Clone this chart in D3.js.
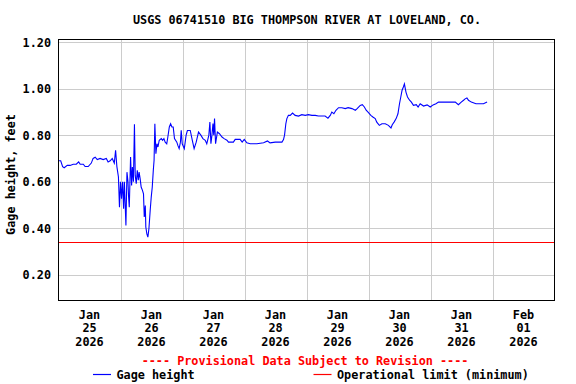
<!DOCTYPE html>
<html>
<head>
<meta charset="utf-8">
<script src="https://cdn.jsdelivr.net/npm/d3@7"></script>
<style>
  html, body { margin: 0; padding: 0; background: #fff; }
  svg { display: block; }
  text { font-family: "DejaVu Sans Mono", "Liberation Mono", monospace; font-weight: bold; font-size: 11.8px; fill: #000; }
</style>
</head>
<body>
<svg id="chart" width="576" height="384"></svg>
<script>
const title = "USGS 06741510 BIG THOMPSON RIVER AT LOVELAND, CO.";
const yTitle = "Gage height, feet";
const yTicks = [0.20, 0.40, 0.60, 0.80, 1.00, 1.20];
const xTickLabels = [["Jan","25","2026"],["Jan","26","2026"],["Jan","27","2026"],["Jan","28","2026"],
                     ["Jan","29","2026"],["Jan","30","2026"],["Jan","31","2026"],["Feb","01","2026"]];
const operationalLimit = 0.34;
const provisional = "---- Provisional Data Subject to Revision ----";
const legendLabels = ["Gage height", "Operational limit (minimum)"];

// hours since Jan 25 2026 00:00
const hours = [0,0.85,1.6,2.2,3.4,4.5,5.7,6.9,7.8,8.4,9.6,10.3,11.5,12.7,13.4,14.2,15.0,16.1,17.3,18.5,19.2,20.0,20.8,21.6,22.1,22.6,23.2,23.6,
  24.0,24.4,24.8,25.2,25.5,26.1,26.5,26.9,27.1,27.4,27.9,28.3,28.6,29.0,29.4,29.7,30.1,30.5,30.9,31.2,31.6,32.0,32.5,32.9,33.2,33.6,33.8,34.2,34.6,35.0,35.5,35.9,36.3,36.7,37.0,37.3,37.7,38.1,38.5,39.0,39.8,40.3,40.8,41.3,41.9,42.3,42.9,43.4,43.9,44.4,44.9,45.8,46.2,46.7,47.2,47.5,
  47.9,48.7,49.4,49.9,51.0,51.8,52.5,53.3,54.2,55.1,55.9,56.8,57.4,58.2,58.6,59.0,59.4,59.8,60.1,60.4,60.8,61.5,62.3,63.3,64.1,65.2,65.8,67.7,68.4,70.3,71.1,
  71.9,72.9,74.2,76.8,79.4,80.9,81.9,83.9,86.5,87.1,87.5,88.0,88.4,89.0,89.7,90.6,91.6,92.9,94.2,95.5,96.7,98.1,99.4,100.6,103.2,104.3,105.2,105.8,106.6,107.4,108.4,109.7,111.0,112.1,113.6,114.9,115.6,116.8,117.6,118.4,119.1,
  120.0,120.9,121.7,122.6,123.2,124.2,125.2,126.5,127.7,128.7,129.2,129.9,130.7,131.4,132.0,132.5,133.0,133.5,133.9,134.5,135.1,135.9,136.6,137.4,138.5,139.2,140.0,141.3,142.7,143.9,
  145.0,146.1,147.1,148.4,151.0,153.6,154.8,155.9,156.8,157.4,158.1,158.7,159.8,161.6,163.3,164.5,165.9];
const gageHeight = [0.69,0.69,0.665,0.66,0.67,0.67,0.675,0.675,0.685,0.675,0.675,0.665,0.665,0.68,0.70,0.705,0.695,0.70,0.695,0.70,0.685,0.69,0.70,0.68,0.735,0.665,0.62,0.49,
  0.60,0.527,0.60,0.484,0.60,0.412,0.641,0.60,0.541,0.49,0.706,0.584,0.663,0.60,0.847,0.627,0.591,0.649,0.606,0.641,0.613,0.577,0.563,0.548,0.448,0.498,0.405,0.376,0.362,0.398,0.477,0.534,0.577,0.649,0.692,0.849,0.72,0.763,0.749,0.778,0.785,0.778,0.785,0.770,0.763,0.79,0.835,0.849,0.835,0.835,0.785,0.77,0.756,0.742,0.77,0.821,
  0.763,0.742,0.80,0.82,0.82,0.778,0.742,0.77,0.813,0.80,0.785,0.778,0.763,0.80,0.856,0.763,0.80,0.85,0.80,0.871,0.763,0.813,0.806,0.792,0.785,0.778,0.770,0.770,0.782,0.782,0.770,
  0.782,0.767,0.763,0.763,0.767,0.775,0.767,0.770,0.770,0.781,0.80,0.849,0.871,0.885,0.885,0.895,0.885,0.882,0.888,0.885,0.888,0.885,0.885,0.882,0.882,0.873,0.885,0.899,0.892,0.907,0.918,0.918,0.914,0.918,0.914,0.907,0.914,0.928,0.931,0.921,0.907,
  0.897,0.885,0.878,0.871,0.856,0.842,0.849,0.849,0.842,0.831,0.845,0.856,0.871,0.892,0.935,0.964,0.993,1.007,1.02,0.985,0.964,0.95,0.942,0.928,0.931,0.921,0.935,0.925,0.93,0.921,
  0.93,0.935,0.942,0.942,0.942,0.942,0.931,0.942,0.95,0.956,0.96,0.95,0.942,0.935,0.935,0.935,0.942];

const start = new Date(2026, 0, 25, 0, 0, 0);
const end = new Date(2026, 1, 2, 0, 0, 0);
const data = hours.map((h, i) => ({ t: d3.timeMinute.offset(start, Math.round(h * 60)), v: gageHeight[i] }));

const svg = d3.select("#chart");
const L = 58.5, R = 554.5, T = 39.5, B = 300.5;

const x = d3.scaleTime().domain([start, end]).range([L, R]);
const y = d3.scaleLinear().domain([0.0895, 1.211]).range([B, T]);

// grid
const days = d3.timeDay.range(d3.timeDay.offset(start, 1), end);
svg.append("g").selectAll("line").data(days).join("line")
  .attr("x1", d => Math.round(x(d)) + 0.5).attr("x2", d => Math.round(x(d)) + 0.5)
  .attr("y1", T).attr("y2", B)
  .attr("stroke", "#cccccc").attr("stroke-width", 1).attr("shape-rendering", "crispEdges");
svg.append("g").selectAll("line").data(yTicks).join("line")
  .attr("x1", L).attr("x2", R)
  .attr("y1", d => Math.round(y(d)) + 0.5).attr("y2", d => Math.round(y(d)) + 0.5)
  .attr("stroke", "#cccccc").attr("stroke-width", 1).attr("shape-rendering", "crispEdges");

// operational limit
svg.append("line")
  .attr("x1", L).attr("x2", R)
  .attr("y1", Math.round(y(operationalLimit)) + 0.5).attr("y2", Math.round(y(operationalLimit)) + 0.5)
  .attr("stroke", "#ff0000").attr("stroke-width", 1).attr("shape-rendering", "crispEdges");

// data line
svg.append("path").datum(data)
  .attr("fill", "none").attr("stroke", "#0000ff").attr("stroke-width", 1.1)
  .attr("d", d3.line().x(d => x(d.t)).y(d => y(d.v)));

// frame
svg.append("rect").attr("x", L).attr("y", T).attr("width", R - L).attr("height", B - T)
  .attr("fill", "none").attr("stroke", "#000").attr("stroke-width", 1).attr("shape-rendering", "crispEdges");

// y tick labels
svg.append("g").selectAll("text").data(yTicks).join("text")
  .attr("x", 51).attr("y", d => y(d) + 4.5).attr("text-anchor", "end")
  .text(d => d.toFixed(2));

// x tick labels at noon
const noons = d3.timeDay.range(start, end).map(d => d3.timeHour.offset(d, 12));
const xl = svg.append("g").selectAll("text").data(noons).join("text")
  .attr("text-anchor", "middle");
xl.each(function(d, i) {
  const t = d3.select(this);
  xTickLabels[i].forEach((s, j) => {
    t.append("tspan").attr("x", x(d)).attr("y", 319 + j * 13.4).text(s);
  });
});

// titles
svg.append("text").attr("x", 307).attr("y", 24).attr("text-anchor", "middle").text(title);
svg.append("text").attr("transform", "translate(15,174.5) rotate(-90)").attr("text-anchor", "middle").text(yTitle);

// provisional
svg.append("text").attr("x", 305).attr("y", 365).attr("text-anchor", "middle").style("fill", "#ff0000").text(provisional);

// legend
const legendColors = ["#0000ff", "#ff0000"];
const legendX = [93, 313.5];
legendLabels.forEach((lab, i) => {
  svg.append("line").attr("x1", legendX[i]).attr("x2", legendX[i] + 18)
    .attr("y1", 374.5).attr("y2", 374.5)
    .style("stroke", legendColors[i]).style("stroke-width", "1.2px");
  svg.append("text").attr("x", legendX[i] + 23.5).attr("y", 379).text(lab);
});
</script>
</body>
</html>
